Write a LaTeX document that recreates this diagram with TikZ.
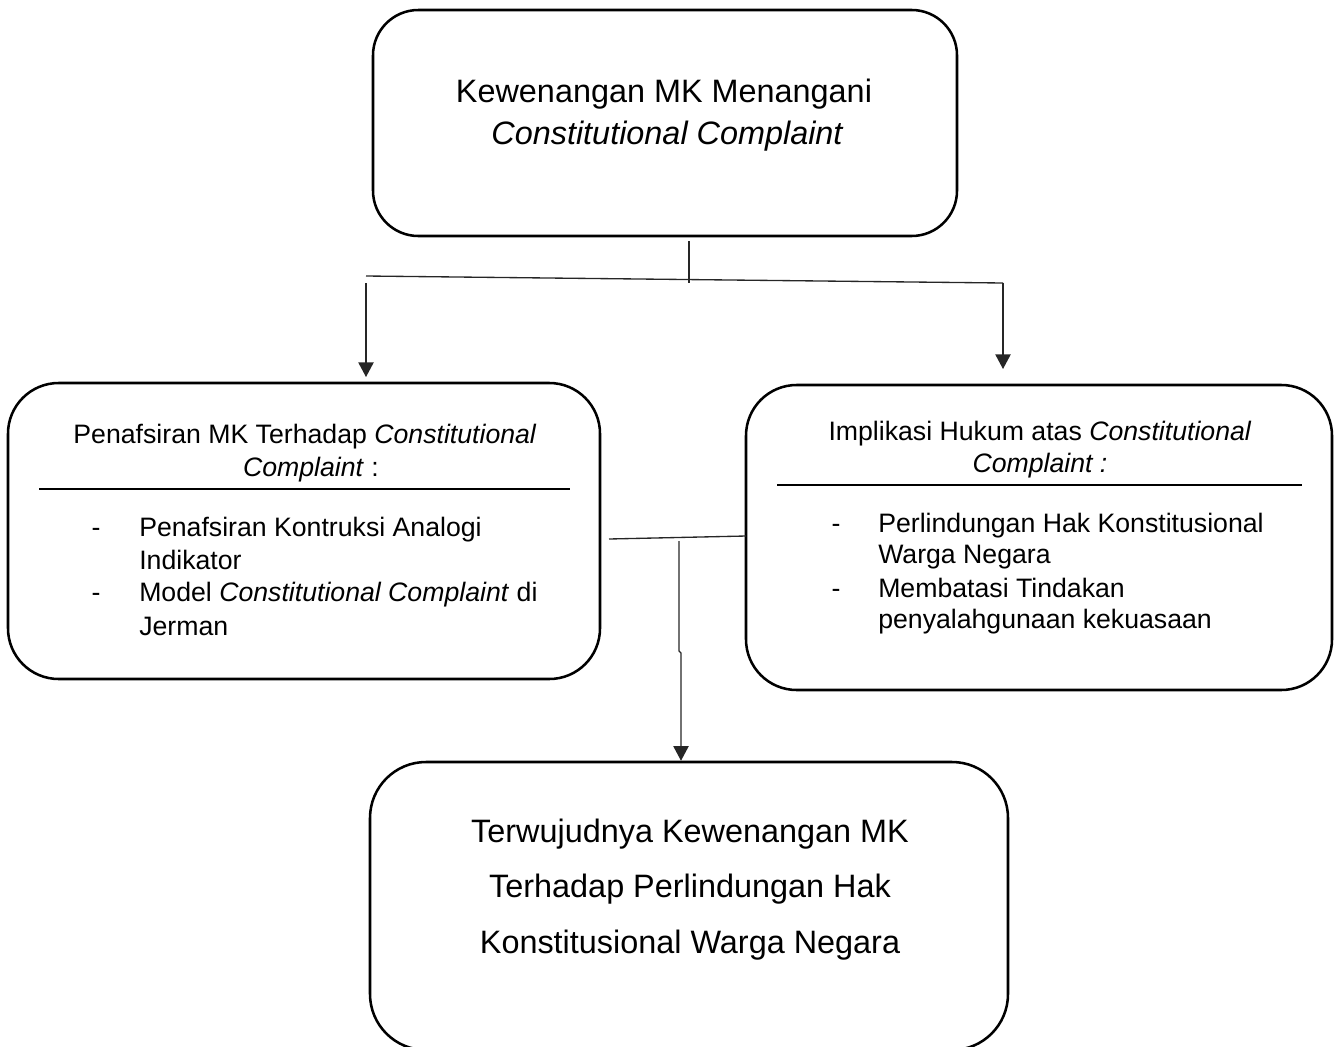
\documentclass[tikz,border=0pt]{standalone}
\usepackage{fontspec}
\setmainfont{Liberation Sans}
\usetikzlibrary{arrows.meta}
\begin{document}
\begin{tikzpicture}[x=0.75pt,y=-0.75pt,
  box/.style={draw=black,line width=1.9pt,rounded corners=#1,inner sep=0pt,fill=none},
  conn/.style={draw=black!85,line width=1pt},
  arr/.style={conn,-{Triangle[width=11.5pt,length=11pt]}},
  sm/.style={font=\fontsize{20}{24}\selectfont,inner sep=0pt,anchor=base},
  bg/.style={font=\fontsize{24.3}{30}\selectfont,inner sep=0pt,anchor=base},
  sml/.style={sm,anchor=base west}]
\useasboundingbox (0,0) rectangle (1335,1046);
% boxes
\node[box=34pt,minimum width=438pt,minimum height=169.5pt] (top) at (665,123) {};
\node[box=38pt,minimum width=444pt,minimum height=222pt] (left) at (304,531) {};
\node[box=38pt,minimum width=439.5pt,minimum height=228.75pt] (right) at (1039,537.5) {};
\node[box=42pt,minimum width=478.5pt,minimum height=216pt] (bottom) at (689,906) {};
% top text
\node[bg] (t1) at (664,102) {Kewenangan MK Menangani};
\node[bg] (t2) at (667,144) {\itshape Constitutional Complaint};
% left text
\node[sm] (l1) at (305,443) {Penafsiran MK Terhadap \textit{Constitutional}};
\node[sm] (l2) at (311,476) {\textit{Complaint} :};
\draw[line width=1.3pt] (39,489) -- (570,489);
\node[sm] (ld1) at (96,536) {-};
\node[sml] (lb1) at (139,536) {Penafsiran Kontruksi Analogi};
\node[sml] (lb2) at (139,569) {Indikator};
\node[sm] (ld2) at (96,601) {-};
\node[sml] (lb3) at (139,601) {Model \textit{Constitutional Complaint} di};
\node[sml] (lb4) at (139,635) {Jerman};
% right text
\node[sm] (r1) at (1040,440) {Implikasi Hukum atas \textit{Constitutional}};
\node[sm] (r2) at (1040,472) {\textit{Complaint :}};
\draw[line width=1.3pt] (777,485) -- (1302,485);
\node[sm] (rd1) at (836,532) {-};
\node[sml] (rb1) at (878,532) {Perlindungan Hak Konstitusional};
\node[sml] (rb2) at (878,563) {Warga Negara};
\node[sm] (rd2) at (836,597) {-};
\node[sml] (rb3) at (878,597) {Membatasi Tindakan};
\node[sml] (rb4) at (878,628) {penyalahgunaan kekuasaan};
% bottom text
\node[bg] (b1) at (690,842) {Terwujudnya Kewenangan MK};
\node[bg] (b2) at (690,897) {Terhadap Perlindungan Hak};
\node[bg] (b3) at (690,953) {Konstitusional Warga Negara};
% connectors
\coordinate (tj) at (689,283);
\coordinate (hl) at (366,276);
\coordinate (hr) at (1003,283);
\coordinate (al0) at (366,283);
\coordinate (al) at (366,377);
\coordinate (ar) at (1003,369);
\draw[conn] (top.south -| tj) ++(0,4) -- (tj);
\draw[conn] (hl) -- (hr);
\draw[arr] (al0) -- (al);
\draw[arr] (hr) -- (ar);
\coordinate (ml) at (609,539);
\coordinate (mr) at (746,536);
\coordinate (mj) at (679,541);
\coordinate (mk1) at (679,651);
\coordinate (mk2) at (681,653);
\draw[conn] (ml) -- (mr);
\draw[arr] (mj) -- (mk1) -- (mk2) -- (bottom.north -| mk2);
\end{tikzpicture}
\end{document}
